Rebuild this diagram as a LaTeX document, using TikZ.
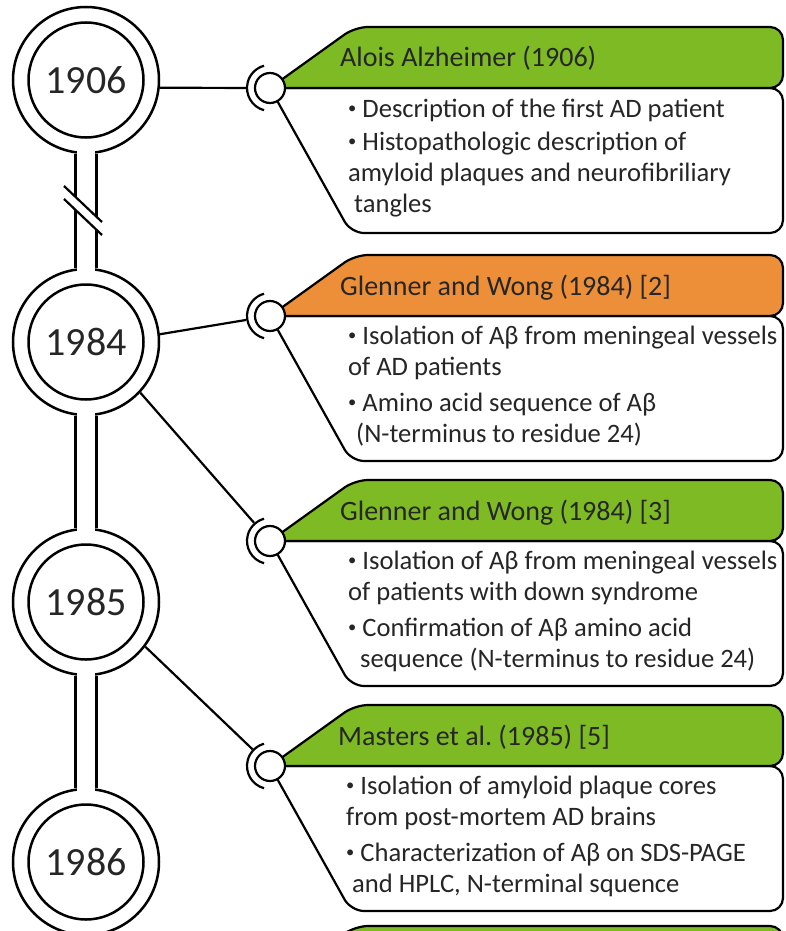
\documentclass[tikz,border=0pt]{standalone}
\usepackage{graphicx}
\usepackage{fontspec}
\setmainfont{Carlito}
\usetikzlibrary{calc}
\definecolor{leafgreen}{RGB}{125,186,35}
\definecolor{amber}{RGB}{236,143,56}
\newcommand{\itembul}{\raisebox{0.13em}{\scalebox{0.62}{•}}}
\frenchspacing

\begin{document}
\begin{tikzpicture}
  [
    x=1pt, y=-1pt,
    ring/.style={circle, draw, line width=2.5pt, minimum size=146pt, inner sep=0pt},
    core/.style={circle, draw, line width=2.5pt, minimum size=115pt, inner sep=0pt,
      text=black!85, font=\fontsize{40}{48}\selectfont},
    hook/.style={circle, minimum size=48pt, inner sep=0pt},
    wire/.style={line width=2.2pt},
    card/.style={line width=2.2pt, rounded corners=13pt},
    headtext/.style={anchor=base west, inner sep=0pt, text=black!85,
      font=\fontsize{28}{34}\selectfont},
    bodytext/.style={anchor=base west, inner sep=0pt, align=left, text=black!85,
      font=\fontsize{26.6}{31}\selectfont}
  ]
  \useasboundingbox (0,0) rectangle (785,931);
  % year rings
  \foreach \yr/\y in {1906/80,1984/342,1985/602,1986/862} {
    \node [ring] (r\yr) at (86,\y) {};
  }
  % stems
  \foreach \a/\b in {1906/1984,1984/1985,1985/1986} {
    \fill [white] ([xshift=-8.8pt,yshift=-62pt]r\a.center) rectangle ([xshift=8.8pt,yshift=62pt]r\b.center);
    \draw [wire, line width=2.5pt] (r\a.-98) -- (r\b.98);
    \draw [wire, line width=2.5pt] (r\a.-82) -- (r\b.82);
  }
  % break mark
  \fill [white] (64,186) -- (102,222) -- (102,235) -- (64,199) -- cycle;
  \draw [wire] (64,186) -- (102,222);
  \draw [wire] (64,199) -- (102,235);
  % year labels
  \foreach \yr in {1906,1984,1985,1986} {
    \node [core] (y\yr) at (r\yr) {\yr};
  }
  % cards
  \foreach \n/\y/\col in {1/88/leafgreen,2/316/amber,3/541/leafgreen,4/766/leafgreen,5/987/leafgreen} {
    \node [hook] (clip\n) at (270,\y) {};
    \draw [card, fill=white] (270,\y) -- (783,\y) -- (783,\y+145) -- (351,\y+145) -- cycle;
    \draw [card, fill=\col] (270,\y) -- (355,\y-61) -- (783,\y-61) -- (783,\y) -- cycle;
  }
  % connectors
  \draw [wire] (r1906.-6) -- (clip1);
  \draw [wire] (r1984.6) -- (clip2);
  \draw [wire] (r1984.-43) -- (clip3);
  \draw [wire] (r1985.-37) -- (clip4);
  % hooks
  \foreach \n in {1,...,5} {
    \draw [wire, fill=white] (clip\n.center) circle [radius=15];
    \draw [wire] (clip\n.center) ++(105:23) arc [start angle=105, end angle=255, radius=23];
  }
  % headers
  \node [headtext] (h1) at ([shift={(70,-21)}]clip1.center) {Alois Alzheimer (1906)};
  \node [headtext] (h2) at ([shift={(70,-21)}]clip2.center) {Glenner and Wong (1984) [2]};
  \node [headtext] (h3) at ([shift={(70,-21)}]clip3.center) {Glenner and Wong (1984) [3]};
  \node [headtext] (h4) at ([shift={(68,-21)}]clip4.center) {Masters et al. (1985) [5]};
  % bodies (base = last line)
  \node [bodytext] (b1) at ([shift={(78,124)}]clip1.center)
    {\itembul{} Description of the first AD patient\\[2pt]
     \itembul{} Histopathologic description of\\
     amyloid plaques and neurofibriliary\\
     \hspace*{6pt}tangles};
  \node [bodytext] (b2) at ([shift={(78,126)}]clip2.center)
    {\itembul{} Isolation of Aβ from meningeal vessels\\
     of AD patients\\[5pt]
     \itembul{} Amino acid sequence of Aβ\\
     \hspace*{8pt}(N-terminus to residue 24)};
  \node [bodytext] (b3) at ([shift={(78,126)}]clip3.center)
    {\itembul{} Isolation of Aβ from meningeal vessels\\
     of patients with down syndrome\\[5pt]
     \itembul{} Confirmation of Aβ amino acid\\
     \hspace*{12pt}sequence (N-terminus to residue 24)};
  \node [bodytext] (b4) at ([shift={(76,126)}]clip4.center)
    {\itembul{} Isolation of amyloid plaque cores\\
     from post-mortem AD brains\\[5pt]
     \itembul{} Characterization of Aβ on SDS-PAGE\\
     \hspace*{6pt}and HPLC, N-terminal squence};
\end{tikzpicture}
\end{document}
